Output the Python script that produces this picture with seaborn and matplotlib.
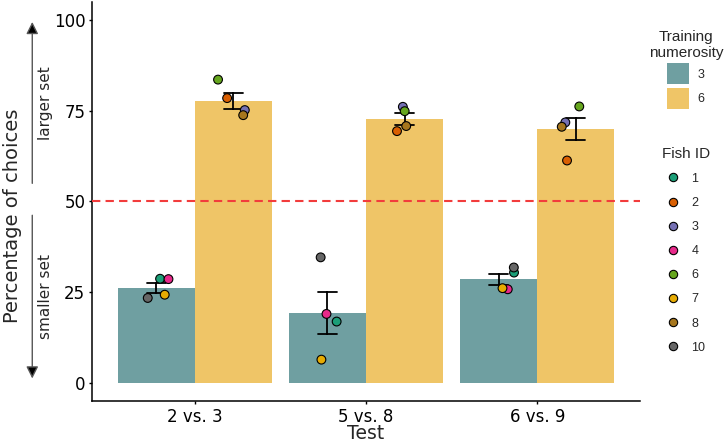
import numpy as np
import pandas as pd
import seaborn as sns
import matplotlib.pyplot as plt

tests = ['2 vs. 3', '5 vs. 8', '6 vs. 9']
numerosity = ['3', '6']
fish_order = ['1', '2', '3', '4', '6', '7', '8', '10']

# fish trained on 3 and fish trained on 6
fish_n3 = ['1', '4', '7', '10']
fish_n6 = ['2', '3', '6', '8']

# percentage of choices for the larger set, per fish (same order as above)
pct_n3_test1 = [28.7, 28.6, 24.3, 23.4]
pct_n3_test2 = [16.9, 19.0, 6.4, 34.6]
pct_n3_test3 = [30.4, 25.8, 26.1, 31.8]
pct_n6_test1 = [78.5, 75.2, 83.6, 73.8]
pct_n6_test2 = [69.4, 76.1, 74.9, 70.8]
pct_n6_test3 = [61.3, 71.8, 76.2, 70.6]

bar_colors = {'3': '#6f9fa1', '6': '#efc567'}


def build_df():
	rows = []
	n3 = [pct_n3_test1, pct_n3_test2, pct_n3_test3]
	n6 = [pct_n6_test1, pct_n6_test2, pct_n6_test3]
	for t, a, b in zip(tests, n3, n6):
		for f, v in zip(fish_n3, a):
			rows.append((t, '3', f, v))
		for f, v in zip(fish_n6, b):
			rows.append((t, '6', f, v))
	return pd.DataFrame(rows, columns=['test', 'numerosity', 'fish', 'pct'])


def main():
	df = build_df()
	sns.set_style('ticks')

	fig, ax = plt.subplots(figsize=(7.25, 4.42), dpi=100)
	fig.subplots_adjust(left=0.1269, right=0.8828, bottom=0.0928, top=0.9955)

	sns.barplot(data=df, x='test', y='pct', hue='numerosity', order=tests,
		hue_order=numerosity, palette=bar_colors, errorbar='se', capsize=0.22,
		width=0.9, saturation=1, linewidth=0,
		err_kws={'color': 'black', 'linewidth': 1.3}, ax=ax)
	leg = ax.get_legend()
	bar_handles = list(leg.legend_handles)
	bar_labels = [t.get_text() for t in leg.get_texts()]
	leg.remove()

	# jittered points on top of each dodged bar
	rng = np.random.default_rng(7)
	pos = {t: i for i, t in enumerate(tests)}
	df['x'] = df.test.map(pos) + np.where(df.numerosity == '3', -0.225, 0.225) \
		+ rng.uniform(-0.09, 0.09, len(df))
	fish_pal = dict(zip(fish_order, sns.color_palette('Dark2', 8)))
	sns.scatterplot(data=df, x='x', y='pct', hue='fish', hue_order=fish_order,
		palette=fish_pal, s=40, edgecolor='black', linewidth=0.8, zorder=5, ax=ax)
	leg = ax.get_legend()
	fish_handles = list(leg.legend_handles)[-len(fish_order):]
	fish_labels = [t.get_text() for t in leg.get_texts()][-len(fish_order):]
	leg.remove()
	for h in fish_handles:
		h.set_markersize(6)

	ax.axhline(50, color='#f23c3c', lw=1.5, dashes=(4, 2.5), zorder=3)

	ax.set_xlim(-0.6, 2.6)
	ax.set_ylim(-5, 105)
	ax.set_xticks(range(len(tests)))
	ax.set_xticklabels(tests)
	ax.set_yticks([0, 25, 50, 75, 100])
	ax.tick_params(length=2.4, width=1, pad=2.4, labelsize=12, colors='black')
	for s in ['left', 'bottom']:
		ax.spines[s].set_color('black')
		ax.spines[s].set_linewidth(1.1)
	sns.despine(ax=ax)

	ax.set_xlabel('Test', fontsize=13.5, va='top')
	ax.xaxis.set_label_coords(0.5, -0.058)
	ax.set_ylabel('Percentage of choices', fontsize=14)
	ax.yaxis.set_label_coords(-0.127, 0.4637)

	# arrows + side labels
	tr = ax.get_yaxis_transform()
	arrow = dict(arrowstyle='-|>', ec='#555555', fc='black', lw=1,
		mutation_scale=18, shrinkA=0, shrinkB=0)
	ax.annotate('', xy=(-0.109, 99.5), xytext=(-0.109, 55.0), xycoords=tr,
		arrowprops=arrow, annotation_clip=False)
	ax.annotate('', xy=(-0.109, 1.2), xytext=(-0.109, 46.2), xycoords=tr,
		arrowprops=arrow, annotation_clip=False)
	ax.text(-0.084, 77.0, 'larger set', transform=tr, rotation=90,
		ha='center', va='center', fontsize=11)
	ax.text(-0.084, 23.7, 'smaller set', transform=tr, rotation=90,
		ha='center', va='center', fontsize=11)

	prop = {'family': 'Liberation Sans', 'size': 9}
	tprop = {'family': 'Liberation Sans', 'size': 11}
	leg1 = fig.legend(bar_handles, bar_labels, title='Training\nnumerosity',
		loc='upper center', bbox_to_anchor=(0.946, 0.933), frameon=False,
		prop=prop, title_fontproperties=tprop, borderpad=0, borderaxespad=0,
		handlelength=1.76, handleheight=2.2, handletextpad=0.72,
		labelspacing=0.28)
	leg1.get_title().set_multialignment('center')
	fig.legend(fish_handles, fish_labels, title='Fish ID',
		loc='upper center', bbox_to_anchor=(0.946, 0.668), frameon=False,
		prop=prop, title_fontproperties=tprop, borderpad=0, borderaxespad=0,
		handlelength=1.0, handletextpad=1.0, labelspacing=0.97)

	plt.savefig('out.png', dpi=100)


if __name__ == '__main__': main()
